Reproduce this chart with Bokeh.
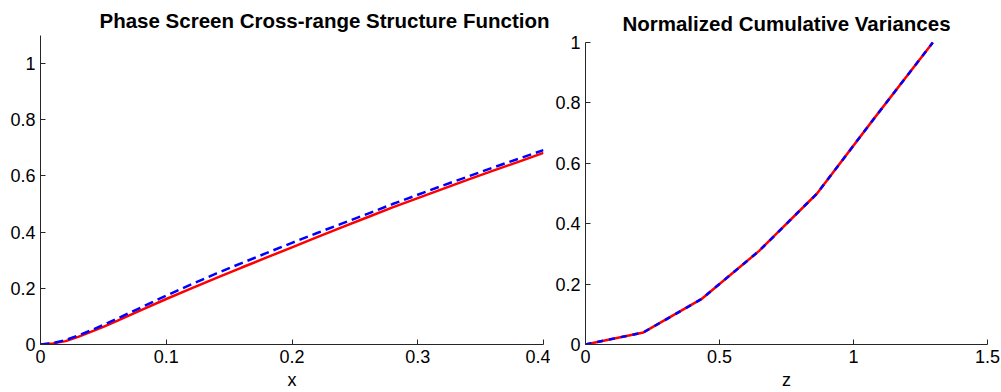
from bokeh.plotting import figure
from bokeh.layouts import row
from bokeh.models import FixedTicker, CustomJSTickFormatter, Range1d
from bokeh.embed import file_html
from bokeh.resources import INLINE

# Left panel: structure function
sf_x = [0, 0.01, 0.02, 0.03, 0.04, 0.05, 0.06, 0.08, 0.10, 0.12, 0.14, 0.16, 0.18,
        0.20, 0.22, 0.24, 0.26, 0.28, 0.30, 0.32, 0.34, 0.36, 0.38, 0.40]
sf_theory = [0, 0.004, 0.012, 0.027, 0.045, 0.063, 0.082, 0.122, 0.162, 0.200, 0.237,
             0.274, 0.310, 0.346, 0.382, 0.418, 0.453, 0.488, 0.521, 0.554, 0.587,
             0.619, 0.650, 0.682]
sf_screen = [0, 0.005, 0.016, 0.032, 0.050, 0.070, 0.090, 0.132, 0.174, 0.214, 0.253,
             0.290, 0.326, 0.362, 0.397, 0.431, 0.465, 0.500, 0.533, 0.566, 0.598,
             0.630, 0.661, 0.692]

# Right panel: normalized cumulative variances
z_vals = [0, 0.216, 0.432, 0.648, 0.864, 1.080, 1.296]
cv_a = [0, 0.040, 0.150, 0.310, 0.500, 0.752, 1.0]
cv_b = [0, 0.040, 0.150, 0.310, 0.500, 0.752, 1.0]

left_xticks = [0, 0.1, 0.2, 0.3, 0.4]
left_yticks = [0, 0.2, 0.4, 0.6, 0.8, 1]
right_xticks = [0, 0.5, 1, 1.5]
right_yticks = [0, 0.2, 0.4, 0.6, 0.8, 1]

left_title = "Phase Screen Cross-range Structure Function"
right_title = "Normalized Cumulative Variances"

FONT = "Liberation Sans"
fmt_code = "var s = tick.toFixed(1); return s.endsWith('.0') ? s.slice(0, -2) : s;"


def style(p, xticks, yticks, xlabel):
    p.xgrid.visible = False
    p.ygrid.visible = False
    p.outline_line_color = None
    for ax, ticks in ((p.xaxis[0], xticks), (p.yaxis[0], yticks)):
        ax.ticker = FixedTicker(ticks=ticks)
        ax.formatter = CustomJSTickFormatter(code=fmt_code)
        ax.major_tick_in = 5
        ax.major_tick_out = 0
        ax.minor_tick_in = 0
        ax.minor_tick_out = 0
        ax.axis_line_color = "#262626"
        ax.major_tick_line_color = "#262626"
        ax.major_label_text_font = FONT
        ax.major_label_text_font_size = "18px"
        ax.major_label_text_color = "#000000"
        ax.major_label_standoff = 5
    p.xaxis[0].axis_label = xlabel
    p.xaxis[0].axis_label_text_font = FONT
    p.xaxis[0].axis_label_text_font_size = "18px"
    p.xaxis[0].axis_label_text_font_style = "normal"
    p.xaxis[0].axis_label_text_color = "#000000"
    p.xaxis[0].axis_label_standoff = 4
    p.title.text_font = FONT
    p.title.text_font_size = "20.5px"
    p.title.text_font_style = "bold"
    p.title.text_color = "#000000"


p1 = figure(width=550, height=392, output_backend="svg", toolbar_location=None,
            x_range=Range1d(0, 0.4), y_range=Range1d(0, 1.1),
            min_border_left=40, min_border_right=7, min_border_top=35, min_border_bottom=47,
            title=left_title)
style(p1, left_xticks, left_yticks, "x")
p1.title.align = "left"
p1.title.offset = 59
p1.title.standoff = 8
p1.line(sf_x, sf_theory, line_color="#ff0000", line_width=2.5)
p1.line(sf_x, sf_screen, line_color="#0000ff", line_width=2.5, line_dash="9 5")

p2 = figure(width=451, height=392, output_backend="svg", toolbar_location=None,
            x_range=Range1d(0, 1.5), y_range=Range1d(0, 1.0231),
            min_border_left=35, min_border_right=14, min_border_top=35, min_border_bottom=47,
            title=right_title)
style(p2, right_xticks, right_yticks, "z")
p2.yaxis[0].bounds = (0, 1)
p2.title.align = "center"
p2.title.standoff = 2
p2.line(z_vals, cv_a, line_color="#ff0000", line_width=2.5)
p2.line(z_vals, cv_b, line_color="#0000ff", line_width=2.5, line_dash="6 6")

layout = row(p1, p2)
open("out.html", "w").write(file_html(layout, INLINE))
